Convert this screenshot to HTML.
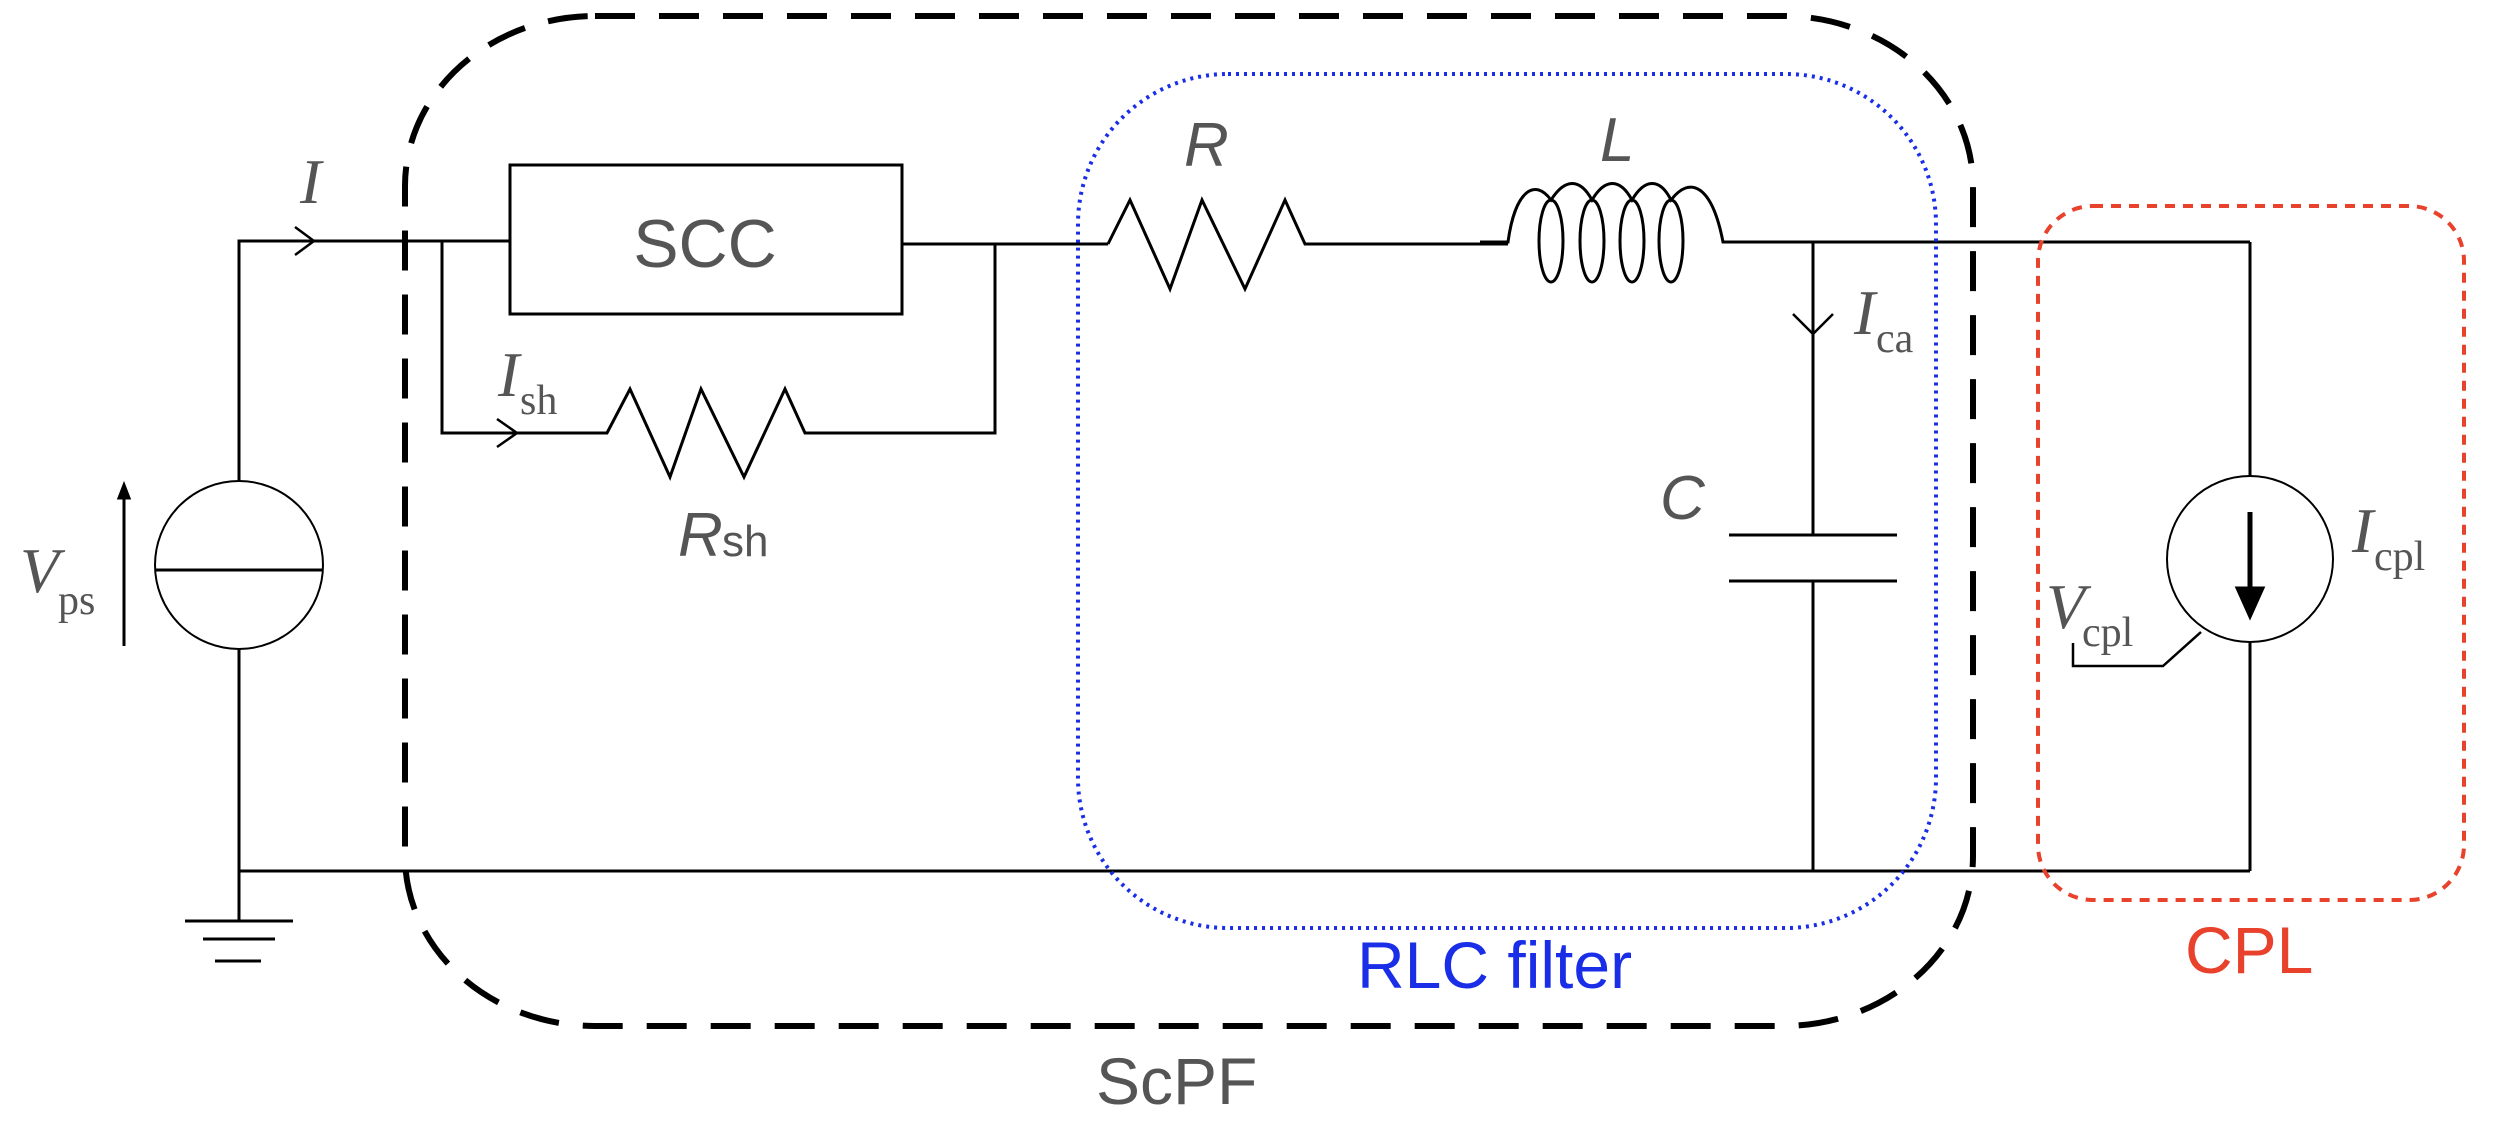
<!DOCTYPE html>
<html><head><style>html,body{margin:0;padding:0;background:#fff}svg{display:block}</style></head>
<body>
<svg width="2498" height="1139" viewBox="0 0 2498 1139" xmlns="http://www.w3.org/2000/svg">
<g fill="none" stroke="#000" stroke-width="3">
<!-- left source -->
<polyline points="239,481 239,241 442,241"/>
<polyline points="239,649 239,921"/>
<circle cx="239" cy="565" r="84" stroke-width="2"/>
<line x1="155" y1="570" x2="323" y2="570" stroke-width="3"/>
<line x1="185" y1="921" x2="293" y2="921"/>
<line x1="203" y1="939" x2="275" y2="939"/>
<line x1="215" y1="961" x2="261" y2="961"/>
<line x1="124" y1="646" x2="124" y2="495"/>
<polygon points="124,485 119,498 129,498" fill="#000"/>
<polyline points="295,227 314,241 295,255" stroke-width="2.5"/>
<!-- SCC + shunt -->
<line x1="442" y1="241" x2="510" y2="241"/>
<rect x="510" y="165" width="392" height="149"/>
<line x1="902" y1="244" x2="1108" y2="244"/>
<polyline points="442,241 442,433 607,433 630,389 670,477 701,389 744,477 785,389 805,433 995,433 995,244"/>
<polyline points="497,419 517,433 497,447" stroke-width="2.5"/>
<!-- R -->
<polyline points="1108,244 1130,200 1170,289 1202,200 1245,289 1285,200 1305,244 1508,244"/>
<!-- L -->
<path d="M1480,242 L1508,242 C1515,190 1535,178 1551,200 C1565,178 1580,178 1592,200 C1605,178 1620,178 1632,200 C1645,178 1660,178 1671,200 C1690,175 1712,185 1723,242 L2250,242"/>
<ellipse cx="1551" cy="241" rx="12" ry="41"/>
<ellipse cx="1592" cy="241" rx="12" ry="41"/>
<ellipse cx="1632" cy="241" rx="12" ry="41"/>
<ellipse cx="1671" cy="241" rx="12" ry="41"/>
<!-- C branch -->
<line x1="1813" y1="242" x2="1813" y2="535"/>
<line x1="1729" y1="535" x2="1897" y2="535"/>
<line x1="1729" y1="581" x2="1897" y2="581"/>
<line x1="1813" y1="581" x2="1813" y2="871"/>
<polyline points="1793,314 1813,334 1833,314" stroke-width="2.5"/>
<!-- CPL -->
<line x1="2250" y1="242" x2="2250" y2="476"/>
<circle cx="2250" cy="559" r="83" stroke-width="2"/>
<line x1="2250" y1="643" x2="2250" y2="871"/>
<line x1="2250" y1="512" x2="2250" y2="590" stroke-width="5"/>
<polygon points="2237,588 2263,588 2250,617" fill="#000"/>
<polyline points="2073,643 2073,666 2163,666 2201,632" stroke-width="2.5"/>
<!-- bottom -->
<line x1="239" y1="871" x2="2250" y2="871"/>
</g>
<!-- boxes -->
<rect x="405" y="16" width="1568" height="1010" rx="190" ry="170" fill="none" stroke="#000" stroke-width="6" stroke-dasharray="40,24"/>
<rect x="1078" y="74" width="858" height="854" rx="150" ry="150" fill="none" stroke="#1a2ee8" stroke-width="4" stroke-dasharray="3,5"/>
<rect x="2038" y="206" width="426" height="694" rx="55" ry="55" fill="none" stroke="#e8412c" stroke-width="4" stroke-dasharray="10,8"/>
<!-- text -->
<g fill="#555" font-family="Liberation Serif, serif">
<text x="20" y="592" font-size="64" font-style="italic">V</text>
<text x="58" y="614" font-size="42">ps</text>
<text x="300" y="203" font-size="64" font-style="italic">I</text>
<text x="498" y="396" font-size="64" font-style="italic">I</text>
<text x="520" y="414" font-size="42">sh</text>
<text x="1854" y="334" font-size="64" font-style="italic">I</text>
<text x="1876" y="352" font-size="42">ca</text>
<text x="2352" y="552" font-size="64" font-style="italic">I</text>
<text x="2374" y="570" font-size="42">cpl</text>
<text x="2046" y="628" font-size="64" font-style="italic">V</text>
<text x="2082" y="646" font-size="42">cpl</text>
</g>
<g fill="#555" font-family="Liberation Sans, sans-serif">
<text x="705" y="267" font-size="68" text-anchor="middle">SCC</text>
<text x="678" y="556" font-size="62" font-style="italic">R</text>
<text x="722" y="556" font-size="44">sh</text>
<text x="1184" y="166" font-size="62" font-style="italic">R</text>
<text x="1600" y="161" font-size="62" font-style="italic">L</text>
<text x="1660" y="519" font-size="62" font-style="italic">C</text>
<text x="1096" y="1104" font-size="66">ScPF</text>
</g>
<text x="1357" y="988" font-size="66" fill="#1a2ee8" font-family="Liberation Sans, sans-serif">RLC filter</text>
<text x="2185" y="973" font-size="66" fill="#e8412c" font-family="Liberation Sans, sans-serif">CPL</text>
</svg>
</body></html>
